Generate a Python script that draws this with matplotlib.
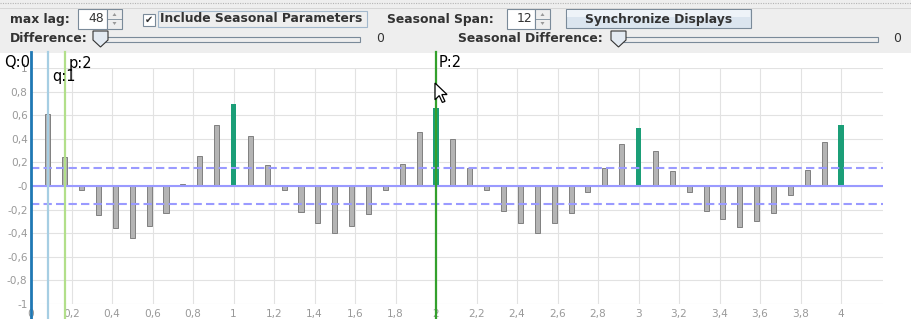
import numpy as np
import matplotlib
matplotlib.use("Agg")
import matplotlib.pyplot as plt
from matplotlib.patches import Rectangle, Polygon

# ── données ─────────────────────────────────────────────────────────────────
max_lag = 48
span    = 12
lags    = np.arange(1, max_lag + 1)
acf     = [0.61, 0.244, -0.037, -0.244, -0.354, -0.44, -0.337, -0.227, 0.014, 0.255, 0.516, 0.697,
           0.425, 0.178, -0.037, -0.218, -0.312, -0.397, -0.337, -0.235, -0.037, 0.184, 0.456, 0.663,
           0.397, 0.15, -0.037, -0.21, -0.317, -0.402, -0.317, -0.232, -0.054, 0.15, 0.354, 0.493,
           0.295, 0.125, -0.054, -0.21, -0.283, -0.351, -0.3, -0.232, -0.079, 0.133, 0.371, 0.516]
conf    = 0.152

order_lags   = [0, 1, 2, 24]           # Q, q, p, P
order_labels = ["Q:0", "q:1", "p:2", "P:2"]
order_colors = ["#1f78b4", "#a6cee3", "#b2df8a", "#33a02c"]

yticks  = np.round(np.arange(-1, 1.01, 0.2), 1)
ylabels = ["-1", "-0,8", "-0,6", "-0,4", "-0,2", "-0", "0,2", "0,4", "0,6", "0,8", "1"]
xticks  = np.round(np.arange(0, 4.01, 0.2), 1)
xlabels = ["0", "0,2", "0,4", "0,6", "0,8", "1", "1,2", "1,4", "1,6", "1,8", "2",
           "2,2", "2,4", "2,6", "2,8", "3", "3,2", "3,4", "3,6", "3,8", "4"]

W, H = 912, 319
fig = plt.figure(figsize=(W / 100, H / 100), dpi=100)
fig.patch.set_facecolor("#eeeeee")

# axe de fond en pixels (origine en haut à gauche)
bg = fig.add_axes([0, 0, 1, 1], zorder=0)
bg.set_xlim(0, W)
bg.set_ylim(H, 0)
bg.axis("off")

bg.add_patch(Rectangle((0, 53), W, H - 53, facecolor="white", edgecolor="none"))
bg.plot([0, W], [3, 3], color="#b4b4b4", lw=0.8, ls=(0, (1, 1.2)))
bg.plot([0, W], [7.5, 7.5], color="#d6d6d6", lw=0.7)

edge = "#7a8a99"
fs   = 8.9

def label(x, y, s, bold=True, ha="left"):
    bg.text(x, y, s, fontsize=fs, fontweight="bold" if bold else "normal",
            color="#333333", ha=ha, va="center")

def spinner(x0, x1, x2, value):
    bg.add_patch(Rectangle((x0, 9), x1 - x0, 20, facecolor="white", edgecolor=edge, lw=0.8))
    bg.add_patch(Rectangle((x1, 9), x2 - x1, 20, facecolor="#eeeeee", edgecolor=edge, lw=0.8))
    bg.plot([x1, x2], [19, 19], color=edge, lw=0.6)
    cx = (x1 + x2) / 2
    bg.add_patch(Polygon([(cx - 2, 16), (cx + 2, 16), (cx, 13)], facecolor="#999999", edgecolor="none"))
    bg.add_patch(Polygon([(cx - 2, 22), (cx + 2, 22), (cx, 25)], facecolor="#999999", edgecolor="none"))
    bg.text(x1 - 3, 19, value, fontsize=fs, color="#333333", ha="right", va="center")

def slider(thumb_x, track_x0, track_x1):
    bg.add_patch(Rectangle((track_x0, 37), track_x1 - track_x0, 5, facecolor="#eeeeee",
                           edgecolor=edge, lw=0.8))
    pts = [(thumb_x, 31), (thumb_x + 15, 31), (thumb_x + 15, 40),
           (thumb_x + 7.5, 47), (thumb_x, 40)]
    bg.add_patch(Polygon(pts, facecolor="#e3eaf2", edgecolor="#333333", lw=0.8))

# ligne 1
label(10, 19, "max lag:")
spinner(78, 107, 122, str(max_lag))
bg.add_patch(Rectangle((143, 14), 12, 12, facecolor="white", edgecolor=edge, lw=0.8))
bg.text(149, 20, "\u2714", fontsize=7, color="#333333", ha="center", va="center")
bg.add_patch(Rectangle((158, 11), 209, 16, facecolor="none", edgecolor="#a3b8cc", lw=0.8))
label(160, 19, "Include Seasonal Parameters")
label(387, 19, "Seasonal Span:")
spinner(507, 535, 550, str(span))
bg.add_patch(Rectangle((566, 9), 185, 19, facecolor="#dbe5ef", edgecolor=edge, lw=0.8))
bg.add_patch(Rectangle((567, 10), 183, 7, facecolor="#eef3f8", edgecolor="none"))
label(658.5, 19, "Synchronize Displays", ha="center")

# ligne 2
label(10, 39, "Difference:")
slider(93, 100, 360)
label(376, 39, "0", bold=False)
label(458, 39, "Seasonal Difference:")
slider(611, 618, 878)
label(893, 39, "0", bold=False)

# ── graphique ACF ───────────────────────────────────────────────────────────
ax = fig.add_axes([31 / W, 1 - 304 / H, (883 - 31) / W, (304 - 68) / H], zorder=1)
ax.set_facecolor("none")
ax.set_xlim(0, 4.207)
ax.set_ylim(-1, 1)
for s in ax.spines.values():
    s.set_visible(False)

for v in yticks:
    ax.axhline(v, color="#e2e2e2", lw=0.8, zorder=0)
for v in xticks:
    ax.axvline(v, color="#e2e2e2", lw=0.8, zorder=0)

ax.set_yticks(yticks)
ax.set_yticklabels(ylabels)
ax.set_xticks([])
ax.tick_params(axis="y", length=0, pad=2.5, labelsize=7.6, labelcolor="#999999")
for v, s in zip(xticks, xlabels):
    ax.text(v, -1.085, s, fontsize=7.6, color="#999999", ha="center", va="center", clip_on=False)

x = lags / span
seasonal = (lags % span) == 0
vals = np.array(acf)
ax.bar(x[~seasonal], vals[~seasonal], width=0.025, color="#b4b4b4", edgecolor="#808080",
       lw=0.7, zorder=2)
ax.bar(x[seasonal], vals[seasonal], width=0.028, color="#1b9e77", edgecolor="none", zorder=2)

ax.axhline(0, color="#9a9aff", lw=1.5, zorder=3)
for c in (conf, -conf):
    ax.axhline(c, color="#9a9aff", lw=1.5, dashes=(4, 2), zorder=3)

# lignes d'ordre du modèle
label_pos = {"Q:0": (-0.005, 1.045, "right"), "q:1": (0.105, 0.93, "left"),
             "p:2": (0.185, 1.035, "left"), "P:2": (2.015, 1.045, "left")}
for lg, lb, col in zip(order_lags, order_labels, order_colors):
    xv = lg / span
    ax.plot([xv, xv], [-1.135, 1.135], color=col, lw=1.6 if lg else 2.0, zorder=4, clip_on=False)
    px, py, ha = label_pos[lb]
    ax.text(px, py, lb, fontsize=10.5, color="black", ha=ha, va="center", zorder=5, clip_on=False)

# curseur de la souris
cur = np.array([(0, 0), (0, 16), (4, 12), (7, 18.5), (9.5, 17.5), (6.5, 11), (11.5, 11)])
cur = cur * 1.05 + np.array([435, 83])
ax.add_patch(Polygon(cur, closed=True, facecolor="white", edgecolor="black", lw=0.9,
                     transform=bg.transData, clip_on=False, zorder=6))

fig.savefig("out.png", dpi=100, facecolor=fig.get_facecolor())
